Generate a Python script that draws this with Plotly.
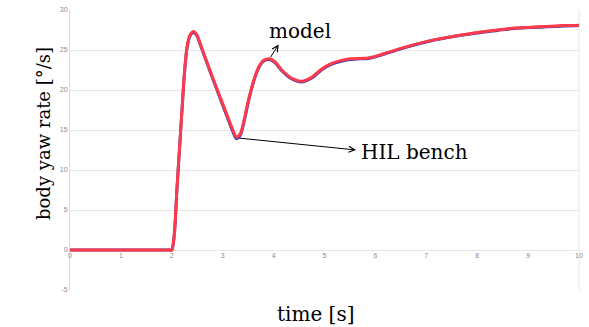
import plotly.graph_objects as go

# Time axis [s] and yaw-rate responses [deg/s]
time_s = [0.0, 1.0, 1.95, 2.0, 2.05, 2.1, 2.15, 2.2, 2.25, 2.3, 2.36, 2.43, 2.5, 2.58, 2.73,
          2.87, 3.0, 3.12, 3.2, 3.27, 3.35, 3.5, 3.6, 3.71, 3.8, 3.92, 4.03, 4.16, 4.35,
          4.55, 4.75, 4.94, 5.13, 5.33, 5.5, 5.7, 5.86, 6.05, 6.25, 6.5, 6.78, 7.1,
          7.42, 7.75, 8.07, 8.4, 8.73, 9.05, 9.37, 9.7, 10.0]

hil_bench = [0.0, 0.0, 0.0, 0.0, 2.0, 7.5, 12.5, 17.5, 22.3, 25.4, 26.9, 27.3, 26.8, 25.4, 22.8,
             20.4, 18.3, 16.3, 15.0, 14.1, 14.6, 18.6, 21.0, 22.9, 23.7, 23.9, 23.5, 22.5, 21.5,
             21.1, 21.6, 22.6, 23.3, 23.7, 23.9, 23.95, 24.0, 24.3, 24.7, 25.2, 25.7, 26.2,
             26.6, 26.95, 27.25, 27.5, 27.75, 27.85, 27.95, 28.05, 28.1]

model = [0.0, 0.0, 0.0, 0.0, 2.0, 7.5, 12.5, 17.5, 22.2, 25.3, 26.8, 27.2, 26.7, 25.3, 22.7,
         20.3, 18.1, 16.1, 14.8, 13.9, 14.4, 18.4, 20.9, 22.8, 23.6, 23.8, 23.4, 22.4, 21.4,
         21.0, 21.5, 22.5, 23.2, 23.6, 23.8, 23.9, 23.95, 24.25, 24.65, 25.15, 25.65, 26.15,
         26.55, 26.9, 27.2, 27.45, 27.7, 27.8, 27.9, 28.0, 28.05]

x_ticks = list(range(0, 11))
y_ticks = [-5, 0, 5, 10, 15, 20, 25, 30]

serif = "DejaVu Serif"

fig = go.Figure()
fig.add_trace(go.Scatter(x=time_s, y=model, mode="lines", name="model",
                         line=dict(color="#3a3ab8", width=3, shape="spline", smoothing=0.7)))
fig.add_trace(go.Scatter(x=time_s, y=hil_bench, mode="lines", name="HIL bench",
                         line=dict(color="#ff3a4a", width=3, shape="spline", smoothing=0.7)))

fig.update_layout(
    width=589, height=327,
    margin=dict(l=70, r=6, t=9, b=37),
    paper_bgcolor="white", plot_bgcolor="white",
    showlegend=False,
    xaxis=dict(range=[0, 10], tickvals=x_ticks, ticktext=[str(v) for v in x_ticks],
               showgrid=False, zeroline=False, showline=False,
               anchor="free", position=(5 / 35),
               tickfont=dict(size=7, color="#8a8a8a", family="Arial"),
               ticks="", ticklen=0),
    yaxis=dict(range=[-5, 30], tickvals=y_ticks, ticktext=[str(v) for v in y_ticks],
               showgrid=True, gridcolor="#e6e6e6", gridwidth=1,
               zeroline=False, showline=True, linecolor="#dcdcdc", linewidth=1,
               tickfont=dict(size=7, color="#8a8a8a", family="Arial"),
               ticks="", ticklen=0),
)

# Right border of the plot frame
fig.add_shape(type="line", xref="paper", yref="paper", x0=1, x1=1, y0=0, y1=1,
              line=dict(color="#e6e6e6", width=1), layer="below")

# Axis titles
fig.add_annotation(text="body yaw rate [°/s]", xref="paper", yref="paper",
                   x=-0.078, y=0.56, textangle=-90, showarrow=False,
                   font=dict(family=serif, size=18, color="black"))
fig.add_annotation(text="time [s]", xref="paper", yref="paper",
                   x=0.483, y=-0.085, yanchor="middle", showarrow=False,
                   font=dict(family=serif, size=20, color="black"))

# Curve labels with leader arrows
fig.add_annotation(text="model", x=4.52, y=27.4, showarrow=False,
                   font=dict(family=serif, size=20, color="black"))
fig.add_annotation(text="", x=4.1, y=25.7, ax=3.92, ay=23.9, axref="x", ayref="y",
                   showarrow=True, arrowhead=5, arrowsize=1.2, arrowwidth=1,
                   arrowcolor="black", standoff=0, startstandoff=0)
fig.add_annotation(text="HIL bench", x=5.68, y=12.3, xanchor="left", showarrow=False,
                   font=dict(family=serif, size=20, color="black"))
fig.add_annotation(text="", x=5.62, y=12.5, ax=3.3, ay=14.0, axref="x", ayref="y",
                   showarrow=True, arrowhead=5, arrowsize=1.2, arrowwidth=1,
                   arrowcolor="black", standoff=0, startstandoff=0)

fig.write_html("out.html")
